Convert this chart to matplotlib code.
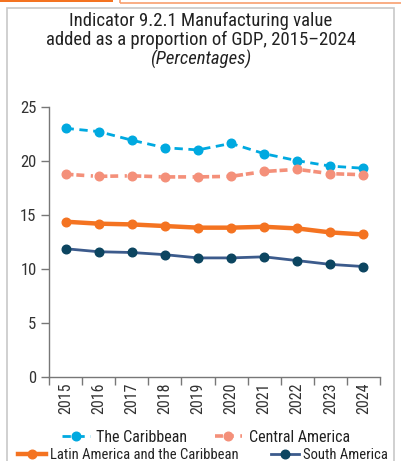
import matplotlib
matplotlib.use("Agg")
import matplotlib.pyplot as plt
from matplotlib.patches import Rectangle
from matplotlib import font_manager

years = ["2015", "2016", "2017", "2018", "2019", "2020", "2021", "2022", "2023", "2024"]
caribbean = [23.0, 22.7, 21.9, 21.2, 21.0, 21.6, 20.65, 20.0, 19.5, 19.3]
central_america = [18.75, 18.55, 18.6, 18.5, 18.5, 18.55, 19.0, 19.2, 18.8, 18.7]
lac = [14.35, 14.17, 14.1, 13.95, 13.8, 13.8, 13.88, 13.73, 13.36, 13.17]
south_america = [11.85, 11.57, 11.5, 11.3, 11.0, 11.0, 11.1, 10.75, 10.4, 10.2]
yticks = [0, 5, 10, 15, 20, 25]

avail = {f.name for f in font_manager.fontManager.ttflist}
fams = [f for f in ["Roboto Condensed", "DejaVu Sans Condensed", "Liberation Sans Narrow", "Roboto"] if f in avail]
plt.rcParams["font.family"] = fams + ["DejaVu Sans"]
plt.rcParams["font.weight"] = "normal"

fig = plt.figure(figsize=(4.01, 4.61), dpi=100)
W, H = 401, 461

def fx(px):
    return px / W

def fy(py):
    return 1 - py / H

# decorative top bars and border
fig.patches.append(Rectangle((0, fy(2)), fx(113), 2 / H, transform=fig.transFigure,
                             facecolor="#F47321", edgecolor="none"))
fig.patches.append(Rectangle((fx(120), fy(3)), fx(285), 4 / H, transform=fig.transFigure,
                             facecolor="none", edgecolor="#F8A070", lw=1.2))
fig.patches.append(Rectangle((fx(7), fy(470)), fx(387), 462 / H, transform=fig.transFigure,
                             facecolor="none", edgecolor="#C8C8C8", lw=1.2))

tkw = dict(ha="center", va="center", fontsize=13.5, color="#222222", weight="normal")
fig.text(0.5, fy(21), "Indicator 9.2.1 Manufacturing value", **tkw)
fig.text(0.5, fy(40), "added as a proportion of GDP, 2015\u20132024", **tkw)
fig.text(0.5, fy(59), "(Percentages)", style="italic", **tkw)

ax = fig.add_axes([fx(49), fy(376.7), fx(380 - 49), (376.7 - 106.7) / H])
x = list(range(len(years)))

ms = 6.2
ax.plot(x, caribbean, color="#00A9E0", lw=2, dashes=(3, 2), marker="o", ms=ms,
        label="The Caribbean")
ax.plot(x, central_america, color="#F4907A", lw=2.6, dashes=(2.2, 0.8, 2.2, 1.8, 0.6, 1.8),
        marker="o", ms=ms, label="Central America")
ax.plot(x, lac, color="#F47321", lw=3.2, marker="o", ms=ms,
        label="Latin America and the Caribbean")
ax.plot(x, south_america, color="#3C5B8C", lw=2, marker="o", ms=ms, mfc="#0C4560",
        mec="#0C4560", label="South America")

ax.set_xlim(-0.5, len(years) - 0.5)
ax.set_ylim(0, 25)
ax.set_yticks(yticks)
ax.set_yticklabels([str(v) for v in yticks], fontsize=12, color="#333333")
ax.set_xticks(x)
ax.set_xticklabels(years, rotation=90, fontsize=11.5, color="#333333")
ax.set_xticks([i - 0.5 for i in range(len(years) + 1)], minor=True)
ax.tick_params(axis="x", which="major", length=0, pad=4)
ax.tick_params(axis="x", which="minor", length=6, color="#777777", width=1)
ax.tick_params(axis="y", length=6, color="#777777", width=1, pad=3)
for s in ["top", "right"]:
    ax.spines[s].set_visible(False)
for s in ["left", "bottom"]:
    ax.spines[s].set_color("#777777")
    ax.spines[s].set_linewidth(1)

handles = ax.get_lines()
base = dict(loc="center", ncol=2, frameon=False, borderpad=0, labelcolor="#222222")
fig.legend(handles[:2], [h.get_label() for h in handles[:2]],
           bbox_to_anchor=(fx(206), fy(437)), prop={"size": 11.5, "weight": "normal"},
           handlelength=1.75, handletextpad=0.4, columnspacing=1.7, **base)
fig.legend(handles[2:], [h.get_label() for h in handles[2:]],
           bbox_to_anchor=(fx(203), fy(455)), prop={"size": 10.5, "weight": "normal"},
           handlelength=1.9, handletextpad=0.3, columnspacing=2.2, **base)

fig.savefig("out.png", dpi=100)
